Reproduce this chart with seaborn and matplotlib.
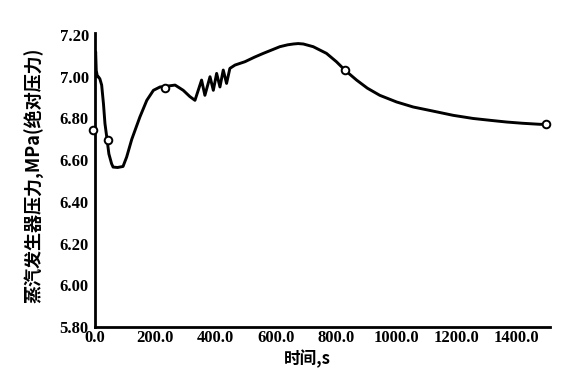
import matplotlib
matplotlib.use("Agg")
import matplotlib.pyplot as plt
import seaborn as sns
import pandas as pd

# ---- data ----
time_s = [0, 2, 4, 8, 11, 16, 22, 28, 33, 39, 46, 55, 60, 75, 93, 105, 122,
          149, 172, 194, 216, 240, 266, 293, 315, 332, 354, 365, 382, 393, 404,
          415, 426, 437, 448, 465, 498, 530, 559, 590, 614, 640, 659, 675,
          692, 725, 769, 802, 830, 869, 905, 946, 1002, 1057, 1124, 1190,
          1256, 1320, 1367, 1420, 1478, 1500]
pressure_mpa = [7.06, 7.12, 7.03, 7.00, 7.00, 6.99, 6.96, 6.87, 6.775, 6.71,
                6.63, 6.583, 6.567, 6.565, 6.57, 6.615, 6.70, 6.807, 6.887,
                6.935, 6.951, 6.955, 6.96, 6.935, 6.905, 6.887, 6.984, 6.911,
                7.00, 6.935, 7.016, 6.951, 7.032, 6.968, 7.04, 7.056, 7.072,
                7.094, 7.112, 7.13, 7.144, 7.153, 7.157, 7.159, 7.157, 7.144,
                7.112, 7.072, 7.032, 6.984, 6.945, 6.911, 6.879, 6.855, 6.835,
                6.815, 6.80, 6.79, 6.783, 6.777, 6.772, 6.772]

marker_time = [-6, 42, 232, 830, 1500]
marker_pressure = [6.743, 6.695, 6.944, 7.032, 6.772]

x_ticks = list(range(0, 1501, 100))
x_tick_labels = ["0.0", "", "200.0", "", "400.0", "", "600.0", "", "800.0", "",
                 "1000.0", "", "1200.0", "", "1400.0", ""]
y_ticks = [5.80, 6.00, 6.20, 6.40, 6.60, 6.80, 7.00, 7.20]
y_tick_labels = ["5.80", "6.00", "6.20", "6.40", "6.60", "6.80", "7.00", "7.20"]

x_label = "时间,s"
y_label = "蒸汽发生器压力,MPa(绝对压力)"

# ---- plotting ----
sns.set_theme(style="white")
plt.rcParams["font.family"] = ["Noto Sans CJK SC", "DejaVu Sans"]

curve = pd.DataFrame({"t": time_s, "p": pressure_mpa})
pts = pd.DataFrame({"t": marker_time, "p": marker_pressure})

fig = plt.figure(figsize=(5.76, 3.70), dpi=100)
ax = fig.add_axes([0.165, 0.116, 0.789, 0.795])

sns.lineplot(data=curve, x="t", y="p", ax=ax, sort=False, estimator=None,
             color="black", linewidth=2.1)
sns.scatterplot(data=pts, x="t", y="p", ax=ax, s=30, facecolor="white",
                edgecolor="black", linewidth=1.4, zorder=5, clip_on=False)

ax.set_xlim(0, 1510)
ax.set_ylim(5.80, 7.21)
ax.set_xticks(x_ticks)
ax.set_xticklabels(x_tick_labels)
ax.set_yticks(y_ticks)
ax.set_yticklabels(y_tick_labels)

for lab in ax.get_xticklabels() + ax.get_yticklabels():
    lab.set_fontfamily("Liberation Serif")
    lab.set_fontweight("bold")
    lab.set_fontsize(12)
    lab.set_color("black")

ax.tick_params(axis="x", direction="in", length=5, width=1.5, pad=2, colors="black")
ax.tick_params(axis="y", direction="inout", length=9, width=1.5, pad=0, colors="black")

for side in ["top", "right"]:
    ax.spines[side].set_visible(False)
for side in ["left", "bottom"]:
    ax.spines[side].set_color("black")
    ax.spines[side].set_linewidth(2.0)

ax.set_xlabel(x_label, fontsize=12, fontweight="bold", color="black")
ax.set_ylabel(y_label, fontsize=13, fontweight="bold", color="black")
ax.xaxis.set_label_coords(0.468, -0.078)
ax.yaxis.set_label_coords(-0.112, 0.517)

fig.savefig("out.png", dpi=100, facecolor="white")
